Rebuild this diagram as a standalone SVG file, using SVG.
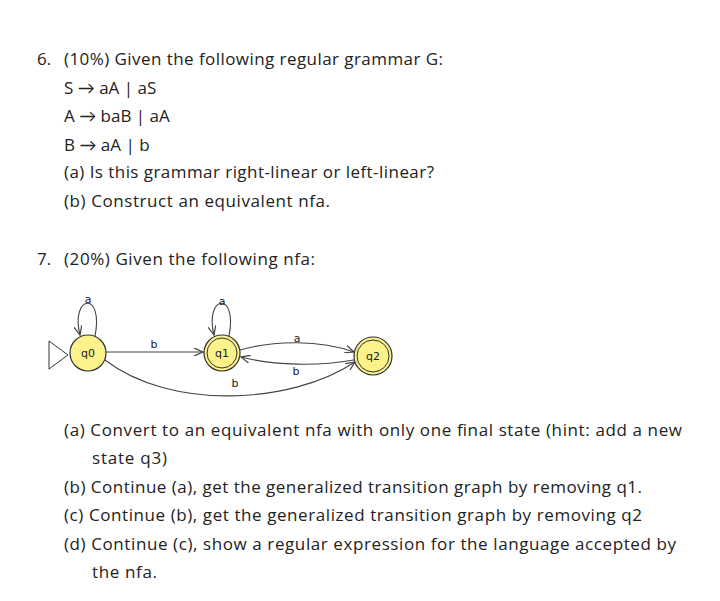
<svg xmlns="http://www.w3.org/2000/svg" width="720" height="601" viewBox="0 0 720 601">
<style>
.t{font-family:"Open Sans",Lato,sans-serif;font-size:17px;fill:#222}
.s{font-family:"DejaVu Sans",sans-serif;font-size:11px;fill:#222}
.st{fill:#fbf28c;stroke:#333;stroke-width:1.2}
.e{fill:none;stroke:#444;stroke-width:1.1;marker-end:url(#ar)}
</style>
<defs><marker id="ar" markerWidth="10" markerHeight="8" refX="9" refY="4" orient="auto" markerUnits="userSpaceOnUse"><path d="M0,0 L9,4 L0,8" fill="none" stroke="#444" stroke-width="1.2"/></marker></defs>
<rect width="720" height="601" fill="#fff"/>
<text class="t" x="37" y="65">6.</text>
<text class="t" x="64" y="65" textLength="379">(10%) Given the following regular grammar G:</text>
<text class="t" x="64" y="94">S → aA | aS</text>
<text class="t" x="64" y="122">A → baB | aA</text>
<text class="t" x="64" y="151">B → aA | b</text>
<text class="t" x="64" y="178" textLength="370">(a) Is this grammar right-linear or left-linear?</text>
<text class="t" x="64" y="207" textLength="266">(b) Construct an equivalent nfa.</text>
<text class="t" x="37" y="265">7.</text>
<text class="t" x="64" y="265" textLength="251">(20%) Given the following nfa:</text>
<g id="connectors">
<path class="e" d="M95,336 C104,290 70,295 80,335"/>
<path class="e" d="M229,336 C238,290 204,295 214,335"/>
<path class="e" d="M106,352 L203,352"/>
<path class="e" d="M240,350 C275,340 320,340 354,352"/>
<path class="e" d="M354,360 C320,366 275,366 241,357"/>
<path class="e" d="M105,360 C170,410 290,405 355,362"/>
</g>
<g id="q0"><path d="M49,341 L68,355 L49,369 Z" fill="#fff" stroke="#333"/><circle class="st" cx="88" cy="353" r="18"/><text class="s" x="88" y="357" text-anchor="middle">q0</text></g>
<g id="q1"><circle class="st" cx="222" cy="353" r="18"/><circle cx="222" cy="353" r="15" fill="none" stroke="#333"/><text class="s" x="222" y="357" text-anchor="middle">q1</text></g>
<g id="q2"><circle class="st" cx="373" cy="356" r="19"/><circle cx="373" cy="356" r="16" fill="none" stroke="#333"/><text class="s" x="373" y="360" text-anchor="middle">q2</text></g>
<g id="labels">
<text class="s" x="88" y="303" text-anchor="middle">a</text>
<text class="s" x="222" y="305" text-anchor="middle">a</text>
<text class="s" x="154" y="348" text-anchor="middle">b</text>
<text class="s" x="297" y="342" text-anchor="middle">a</text>
<text class="s" x="296" y="375" text-anchor="middle">b</text>
<text class="s" x="235" y="387" text-anchor="middle">b</text>
</g>
<text class="t" x="64" y="436" textLength="618">(a) Convert to an equivalent nfa with only one final state (hint: add a new</text>
<text class="t" x="92" y="464" textLength="75">state q3)</text>
<text class="t" x="64" y="493" textLength="578">(b) Continue (a), get the generalized transition graph by removing q1.</text>
<text class="t" x="64" y="521" textLength="578">(c) Continue (b), get the generalized transition graph by removing q2</text>
<text class="t" x="64" y="550" textLength="612">(d) Continue (c), show a regular expression for the language accepted by</text>
<text class="t" x="92" y="578" textLength="65">the nfa.</text>
</svg>
